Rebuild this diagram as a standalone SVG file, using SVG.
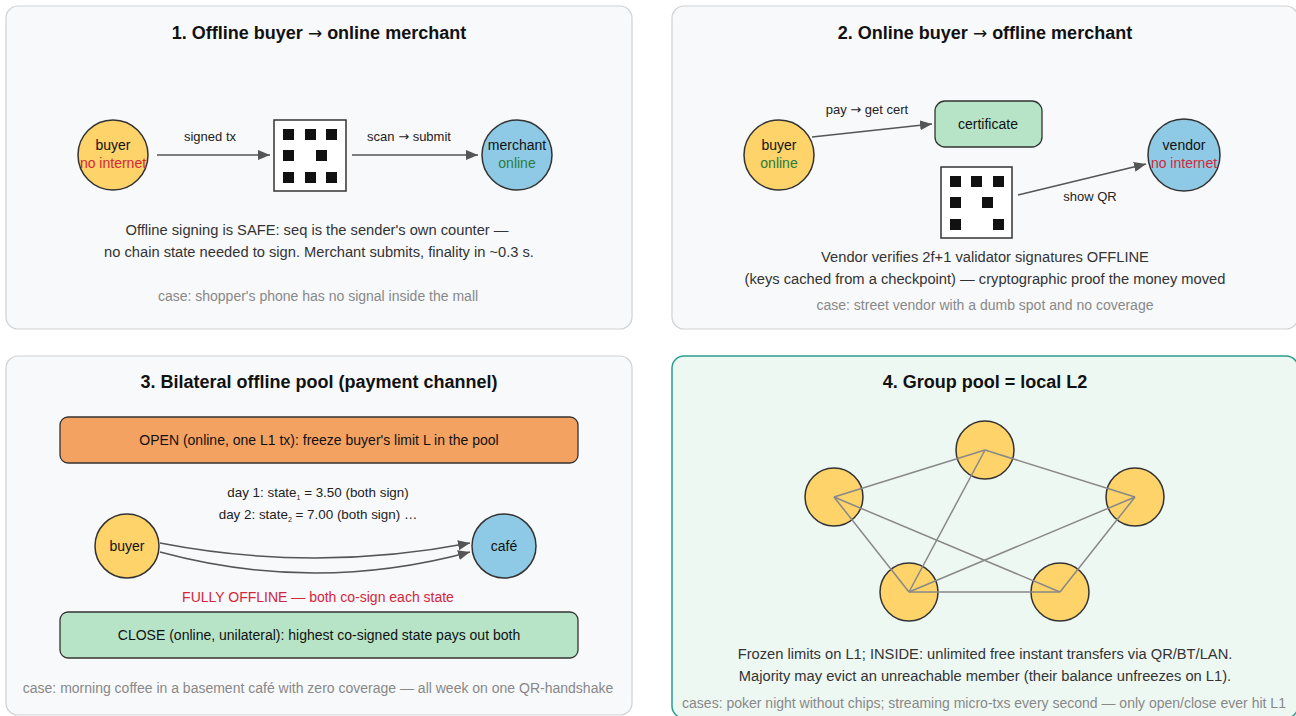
<svg xmlns="http://www.w3.org/2000/svg" width="1296" height="716" viewBox="0 0 1296 716">
  <style>
    text { font-family: "Liberation Sans", Arial, sans-serif; fill: #222; }
    .title { font-size: 18px; font-weight: bold; text-anchor: middle; fill: #111; }
    .body { font-size: 14.7px; text-anchor: middle; fill: #333; }
    .label { font-size: 13px; text-anchor: middle; fill: #222; }
    .day { font-size: 13.4px; text-anchor: middle; fill: #222; }
    .node { font-size: 14px; text-anchor: middle; fill: #111; }
    .case { font-size: 14px; text-anchor: middle; fill: #888; }
    .arr { font-family: "DejaVu Sans", sans-serif; font-weight: normal; }
    .red { fill: #d3263a; }
    .green { fill: #2b7a3e; }
    .panel { fill: #f8f9fb; stroke: #cfd1d4; stroke-width: 1.2; }
    .panel-hl { fill: #eef8f3; stroke: #2a9d8f; stroke-width: 1.5; }
    .buyer { fill: #fdd36a; stroke: #333; stroke-width: 1.5; }
    .shop { fill: #8ecae6; stroke: #333; stroke-width: 1.5; }
    .qr { fill: #fff; stroke: #333; stroke-width: 1.5; }
    .dot { fill: #111; }
    .box-green { fill: #b7e4c7; stroke: #333; stroke-width: 1.3; }
    .box-orange { fill: #f4a261; stroke: #333; stroke-width: 1.3; }
    .arrow { fill: none; stroke: #555; stroke-width: 1.5; marker-end: url(#head); }
    .mesh { stroke: #888; stroke-width: 1.5; }
  </style>
  <defs>
    <marker id="head" markerUnits="userSpaceOnUse" viewBox="0 0 12 10" markerWidth="12" markerHeight="10" refX="12" refY="5" orient="auto">
      <path d="M0,0 L12,5 L0,10 z" fill="#555"/>
    </marker>
  </defs>

  <rect width="1296" height="716" fill="#ffffff"/>

  <!-- panel frames -->
  <g id="panels">
    <rect class="panel" x="6" y="6" width="626" height="323" rx="12"/>
    <rect class="panel" x="672" y="6" width="626" height="323" rx="12"/>
    <rect class="panel" x="6" y="356" width="626" height="359" rx="12"/>
    <rect class="panel-hl" x="672" y="356" width="626" height="362" rx="12"/>
  </g>

  <!-- ===== 1. Offline buyer -> online merchant ===== -->
  <text class="title" x="319" y="39">1. Offline buyer <tspan class="arr" font-size="17">→</tspan> online merchant</text>
  <g id="p1-connectors">
    <line class="arrow" x1="157" y1="155" x2="270" y2="155"/>
    <line class="arrow" x1="352" y1="155" x2="478" y2="155"/>
    <text class="label" x="210" y="141">signed tx</text>
    <text class="label" x="409" y="141">scan <tspan class="arr" font-size="13">→</tspan> submit</text>
  </g>
  <g id="p1-buyer">
    <circle class="buyer" cx="113" cy="155" r="35"/>
    <text class="node" x="113" y="150">buyer</text>
    <text class="node red" x="113" y="168">no internet</text>
  </g>
  <g id="p1-qr">
    <rect class="qr" x="274" y="120" width="72" height="71"/>
    <rect class="dot" x="283" y="129" width="11" height="11"/>
    <rect class="dot" x="305" y="129" width="11" height="11"/>
    <rect class="dot" x="326" y="129" width="11" height="11"/>
    <rect class="dot" x="283" y="150" width="11" height="11"/>
    <rect class="dot" x="316" y="150" width="11" height="11"/>
    <rect class="dot" x="283" y="172" width="11" height="11"/>
    <rect class="dot" x="305" y="172" width="11" height="11"/>
    <rect class="dot" x="326" y="172" width="11" height="11"/>
  </g>
  <g id="p1-merchant">
    <circle class="shop" cx="517" cy="155" r="35"/>
    <text class="node" x="517" y="150">merchant</text>
    <text class="node green" x="517" y="168">online</text>
  </g>
  <text class="body" x="317" y="235">Offline signing is SAFE: seq is the sender's own counter —</text>
  <text class="body" x="319" y="257">no chain state needed to sign. Merchant submits, finality in ~0.3 s.</text>
  <text class="case" x="318" y="301">case: shopper's phone has no signal inside the mall</text>

  <!-- ===== 2. Online buyer -> offline merchant ===== -->
  <text class="title" x="985" y="39">2. Online buyer <tspan class="arr" font-size="17">→</tspan> offline merchant</text>
  <g id="p2-connectors">
    <line class="arrow" x1="812" y1="137" x2="932" y2="124"/>
    <line class="arrow" x1="1018" y1="195" x2="1146" y2="164"/>
    <text class="label" x="867" y="114">pay <tspan class="arr" font-size="13">→</tspan> get cert</text>
    <text class="label" x="1090" y="201">show QR</text>
  </g>
  <g id="p2-buyer">
    <circle class="buyer" cx="779" cy="155" r="35"/>
    <text class="node" x="779" y="150">buyer</text>
    <text class="node green" x="779" y="168">online</text>
  </g>
  <g id="p2-certificate">
    <rect class="box-green" x="935" y="101" width="107" height="46" rx="10"/>
    <text class="node" x="988" y="129">certificate</text>
  </g>
  <g id="p2-qr">
    <rect class="qr" x="941" y="167" width="71" height="71"/>
    <rect class="dot" x="950" y="176" width="11" height="11"/>
    <rect class="dot" x="971" y="176" width="11" height="11"/>
    <rect class="dot" x="993" y="176" width="11" height="11"/>
    <rect class="dot" x="950" y="197" width="11" height="11"/>
    <rect class="dot" x="982" y="197" width="11" height="11"/>
    <rect class="dot" x="950" y="219" width="11" height="11"/>
    <rect class="dot" x="993" y="219" width="11" height="11"/>
  </g>
  <g id="p2-vendor">
    <circle class="shop" cx="1184" cy="155" r="36"/>
    <text class="node" x="1184" y="150">vendor</text>
    <text class="node red" x="1184" y="168">no internet</text>
  </g>
  <text class="body" x="985" y="262">Vendor verifies 2f+1 validator signatures OFFLINE</text>
  <text class="body" x="985" y="284">(keys cached from a checkpoint) — cryptographic proof the money moved</text>
  <text class="case" x="985" y="310">case: street vendor with a dumb spot and no coverage</text>

  <!-- ===== 3. Bilateral offline pool ===== -->
  <text class="title" x="319" y="388">3. Bilateral offline pool (payment channel)</text>
  <g id="p3-open">
    <rect class="box-orange" x="60" y="417" width="518" height="46" rx="8"/>
    <text class="node" x="319" y="445">OPEN (online, one L1 tx): freeze buyer's limit L in the pool</text>
  </g>
  <text class="day" x="318" y="497">day 1: state<tspan font-size="7" dy="3">1</tspan><tspan dy="-3"> = 3.50 (both sign)</tspan></text>
  <text class="day" x="318" y="519">day 2: state<tspan font-size="7" dy="3">2</tspan><tspan dy="-3"> = 7.00 (both sign) …</tspan></text>
  <g id="p3-connectors">
    <path class="arrow" d="M160,543 Q315,573 470,543"/>
    <path class="arrow" d="M160,552 Q315,594 470,552"/>
  </g>
  <g id="p3-buyer">
    <circle class="buyer" cx="127" cy="546" r="32"/>
    <text class="node" x="127" y="551">buyer</text>
  </g>
  <g id="p3-cafe">
    <circle class="shop" cx="504" cy="546" r="32"/>
    <text class="node" x="504" y="551">café</text>
  </g>
  <text class="node red" x="318" y="602">FULLY OFFLINE — both co-sign each state</text>
  <g id="p3-close">
    <rect class="box-green" x="60" y="612" width="518" height="46" rx="8"/>
    <text class="node" x="319" y="640">CLOSE (online, unilateral): highest co-signed state pays out both</text>
  </g>
  <text class="case" x="318" y="693">case: morning coffee in a basement café with zero coverage — all week on one QR-handshake</text>

  <!-- ===== 4. Group pool ===== -->
  <text class="title" x="985" y="388">4. Group pool = local L2</text>
  <g id="p4-members">
    <circle id="m-top" class="buyer" cx="985" cy="450" r="29"/>
    <circle id="m-left" class="buyer" cx="834" cy="497" r="29"/>
    <circle id="m-right" class="buyer" cx="1135" cy="497" r="29"/>
    <circle id="m-bl" class="buyer" cx="909" cy="592" r="29"/>
    <circle id="m-br" class="buyer" cx="1060" cy="592" r="29"/>
  </g>
  <g id="p4-connectors">
    <line class="mesh" x1="985" y1="450" x2="834" y2="497"/>
    <line class="mesh" x1="985" y1="450" x2="1135" y2="497"/>
    <line class="mesh" x1="985" y1="450" x2="909" y2="592"/>
    <line class="mesh" x1="834" y1="497" x2="909" y2="592"/>
    <line class="mesh" x1="834" y1="497" x2="1060" y2="592"/>
    <line class="mesh" x1="1135" y1="497" x2="909" y2="592"/>
    <line class="mesh" x1="1135" y1="497" x2="1060" y2="592"/>
    <line class="mesh" x1="909" y1="592" x2="1060" y2="592"/>
  </g>
  <text class="body" x="985" y="659">Frozen limits on L1; INSIDE: unlimited free instant transfers via QR/BT/LAN.</text>
  <text class="body" x="985" y="681">Majority may evict an unreachable member (their balance unfreezes on L1).</text>
  <text class="case" x="984" y="708">cases: poker night without chips; streaming micro-txs every second — only open/close ever hit L1</text>
</svg>
